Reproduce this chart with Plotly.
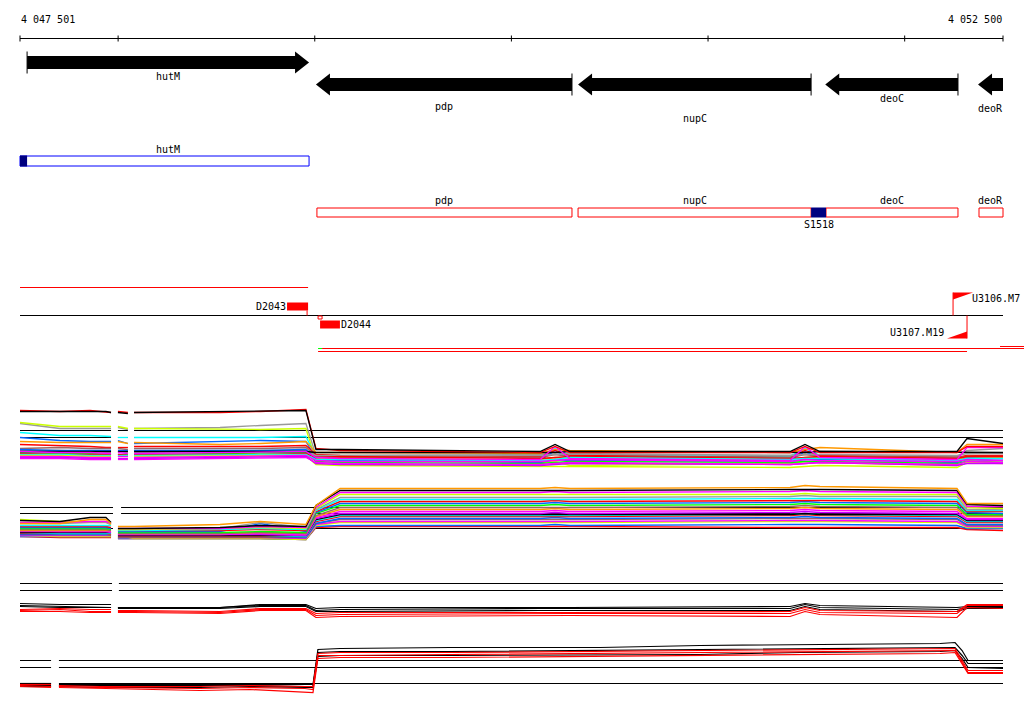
import plotly.graph_objects as go

# ---------------- genomic window ----------------
VIEW_START = 4047501
VIEW_END = 4052500
AXIS_TICKS = [4047501, 4048000, 4049000, 4050000, 4051000, 4052000, 4052500]
AXIS_END_LABELS = ["4 047 501", "4 052 500"]

# ---------------- gene arrows ----------------
GENE_NAMES = ["hutM", "pdp", "nupC", "deoC", "deoR"]
GENE_START = [4047537, 4049006, 4050339, 4051596, 4052373]
GENE_END = [4048971, 4050308, 4051524, 4052271, 4052500]
GENE_STRAND = ["+", "-", "-", "-", "-"]

# ---------------- transcript boxes ----------------
TX_NAMES = ["hutM", "pdp", "nupC", "deoC", "deoR"]
TX_START = [4047501, 4049011, 4050339, 4051600, 4052378]
TX_END = [4048971, 4050308, 4051524, 4052271, 4052500]
TX_COLOR = ["#0000ff", "#ff0000", "#ff0000", "#ff0000", "#ff0000"]
SITE_NAMES = ["", "S1518"]
SITE_START = [4047501, 4051524]
SITE_END = [4047537, 4051600]

# ---------------- features ----------------
SEG_NAMES = ["D2043", "D2044"]
SEG_START = [4048859, 4049027]
SEG_END = [4048966, 4049128]
FLAG_NAMES = ["U3106.M7", "U3107.M19"]
FLAG_POS = [4052246, 4052317]
FLAG_STRAND = ["+", "-"]

# ---------------- data tracks: probe positions ----------------
GRID_BP = [4047501, 4047704, 4047857, 4047938, 4047964, 4047999, 4048050, 4048081,
           4048518, 4048723, 4048955, 4049006, 4049129, 4050146, 4050222, 4050298,
           4051417, 4051493, 4051569, 4052266, 4052317, 4052500]
GRID_D_BP = [4047501, 4047603, 4047659, 4047699, 4047908, 4048416, 4048671, 4048950,
             4048991, 4049016, 4049129, 4049689, 4050451, 4050959, 4051468, 4052180,
             4052256, 4052292, 4052322, 4052500]

# panel A
A_BLACK1 = [411, 411, 411, 411, 412, 412, 413, 412, 411, 410, 410, 449, 449, 451, 444, 451, 451, 444, 451, 451, 438, 443]
A_RED1 = [410, 411, 410, 411, 412, 411, 412, 412, 412, 411, 409, 448, 450, 452, 446, 452, 452, 446, 452, 452, 446, 446]
A_GREY1 = [423, 428, 428, 428, 428, 427, 429, 428, 427, 425, 423, 455, 455, 454, 452, 454, 455, 452, 455, 456, 450, 448]
A_YELLOW1 = [422, 426, 426, 426, 426, 426, 428, 428, 429, 429, 428, 460, 460, 462, 461, 465, 463, 461, 462, 465, 460, 462]
A_CYAN1 = [432, 435, 435, 436, 436, 437, 437, 437, 437, 437, 436, 456, 456, 457, 448, 455, 456, 448, 455, 458, 455, 456]
A_BLUE1 = [437, 440, 441, 441, 441, 440, 443, 443, 441, 440, 441, 458, 459, 460, 450, 459, 460, 451, 458, 460, 457, 458]
A_ORANGE1 = [441, 442, 442, 442, 442, 441, 443, 442, 444, 443, 441, 452, 452, 453, 449, 450, 452, 449, 447, 452, 444, 444]
A_RED2 = [444, 445, 446, 447, 447, 447, 447, 446, 446, 446, 445, 454, 455, 456, 450, 455, 457, 450, 455, 457, 455, 455]
A_BROWN1 = [448, 447, 448, 448, 448, 448, 449, 448, 448, 448, 447, 456, 457, 457, 454, 456, 457, 454, 456, 457, 456, 456]
A_ORANGE2 = [450, 450, 451, 451, 451, 451, 451, 451, 450, 450, 450, 458, 458, 459, 457, 458, 459, 457, 457, 460, 456, 457]
A_GREY2 = [450, 451, 451, 452, 452, 451, 452, 452, 451, 451, 450, 455, 455, 455, 454, 453, 455, 454, 454, 455, 453, 453]
A_BLUE2 = [449, 450, 450, 450, 450, 450, 450, 450, 450, 450, 449, 459, 460, 462, 459, 460, 461, 459, 459, 462, 459, 460]
A_MAGENTA1 = [451, 452, 452, 453, 453, 452, 453, 453, 452, 452, 451, 457, 458, 459, 446, 458, 460, 446, 457, 459, 447, 447]
A_GREEN1 = [452, 453, 453, 454, 454, 454, 454, 454, 453, 453, 452, 461, 462, 463, 462, 461, 462, 461, 461, 463, 461, 462]
A_RED3 = [453, 454, 454, 454, 454, 454, 455, 454, 454, 454, 453, 457, 456, 458, 457, 456, 458, 457, 456, 458, 456, 456]
A_CYAN2 = [454, 454, 455, 455, 455, 455, 455, 455, 454, 454, 454, 459, 459, 460, 459, 457, 459, 458, 458, 460, 458, 458]
A_YELLOW2 = [455, 455, 456, 456, 456, 456, 456, 456, 455, 455, 455, 464, 465, 466, 466, 466, 467, 466, 465, 467, 462, 463]
A_MAGENTA2 = [456, 456, 457, 457, 457, 456, 456, 457, 456, 456, 455, 460, 461, 461, 460, 459, 461, 459, 460, 461, 459, 460]
A_PURPLE1 = [457, 457, 458, 458, 458, 458, 458, 458, 457, 457, 456, 463, 464, 465, 464, 463, 464, 463, 462, 465, 463, 463]
A_MAGENTA3 = [458, 458, 459, 459, 459, 459, 459, 459, 458, 458, 457, 462, 463, 464, 463, 462, 464, 463, 462, 464, 461, 462]
A_BLACK2 = [451, 451, 451, 451, 451, 451, 451, 451, 451, 451, 451, 452, 452, 452, 452, 451, 452, 452, 451, 452, 452, 452]

# panel B
B_ORANGE1 = [523, 523, 519, 519, 523, 526, 526, 526, 524, 521, 524, 505, 488, 488, 487, 488, 487, 485, 486, 488, 503, 503]
B_BLACK1 = [520, 521, 517, 517, 522, 528, 528, 528, 527, 525, 526, 505, 490, 490, 490, 490, 489, 489, 489, 490, 504, 505]
B_MAGENTA1 = [522, 522, 521, 521, 523, 528, 528, 528, 528, 526, 527, 507, 492, 492, 491, 492, 491, 490, 491, 492, 506, 506]
B_YELLOW1 = [519, 521, 521, 521, 524, 529, 529, 529, 528, 527, 528, 508, 494, 494, 494, 494, 494, 493, 494, 494, 507, 508]
B_GREY1 = [523, 523, 522, 522, 524, 529, 529, 529, 528, 522, 527, 509, 497, 497, 497, 497, 496, 495, 496, 496, 509, 509]
B_CYAN1 = [525, 525, 525, 525, 525, 530, 530, 530, 529, 528, 529, 510, 499, 499, 499, 499, 498, 498, 498, 499, 510, 510]
B_RED1 = [526, 526, 526, 526, 527, 530, 530, 530, 530, 529, 530, 511, 501, 501, 500, 501, 500, 500, 500, 501, 511, 511]
B_BLUE1 = [527, 527, 527, 527, 528, 531, 531, 531, 531, 523, 531, 512, 503, 503, 502, 503, 502, 501, 502, 503, 512, 513]
B_GREEN1 = [528, 528, 528, 528, 529, 532, 532, 532, 532, 531, 532, 513, 505, 505, 504, 505, 504, 503, 504, 505, 514, 514]
B_BROWN1 = [529, 529, 529, 529, 530, 533, 533, 533, 533, 532, 533, 515, 507, 507, 507, 507, 506, 505, 506, 507, 515, 515]
B_ORANGE2 = [530, 530, 530, 530, 530, 533, 533, 533, 533, 532, 533, 516, 509, 509, 508, 509, 508, 507, 508, 509, 516, 516]
B_MAGENTA2 = [530, 531, 531, 531, 531, 534, 534, 534, 534, 533, 534, 517, 511, 511, 510, 511, 510, 509, 510, 511, 518, 518]
B_PURPLE1 = [531, 531, 531, 531, 532, 534, 534, 534, 534, 534, 535, 518, 513, 513, 512, 513, 512, 511, 512, 513, 519, 519]
B_BLACK2 = [532, 532, 532, 532, 532, 535, 535, 535, 535, 535, 535, 519, 514, 514, 514, 514, 514, 513, 514, 514, 520, 520]
B_CYAN2 = [532, 533, 533, 533, 533, 535, 535, 535, 535, 535, 536, 520, 515, 515, 515, 515, 514, 513, 514, 515, 521, 521]
B_RED2 = [533, 533, 533, 533, 534, 536, 536, 536, 536, 536, 536, 521, 516, 516, 516, 516, 515, 514, 515, 516, 522, 522]
B_BLUE2 = [534, 534, 534, 534, 534, 536, 536, 536, 536, 536, 537, 523, 518, 518, 517, 518, 517, 516, 517, 518, 524, 524]
B_BROWN2 = [534, 534, 534, 534, 535, 537, 537, 537, 537, 537, 537, 523, 519, 519, 519, 519, 518, 518, 518, 519, 525, 525]
B_MAGENTA3 = [535, 535, 535, 535, 535, 537, 537, 537, 537, 537, 538, 524, 521, 521, 521, 521, 520, 520, 520, 521, 526, 526]
B_YELLOW2 = [535, 536, 536, 536, 536, 537, 537, 538, 538, 538, 539, 525, 522, 522, 522, 522, 521, 521, 521, 522, 527, 527]
B_BLUE3 = [536, 536, 536, 536, 536, 538, 538, 538, 538, 538, 539, 526, 525, 525, 524, 525, 524, 524, 524, 525, 528, 528]
B_RED3 = [536, 537, 537, 537, 537, 538, 538, 538, 538, 538, 539, 527, 526, 526, 526, 526, 527, 527, 527, 527, 529, 530]

# panel C
C_BLACK1 = [603, 604, 604, 604, 604, 607, 607, 607, 607, 604, 604, 608, 607, 607, 607, 607, 606, 603, 605, 607, 606, 606]
C_BLACK2 = [605, 606, 607, 607, 607, 607, 607, 607, 607, 605, 605, 610, 609, 608, 608, 608, 608, 604, 607, 609, 607, 607]
C_BLACK3 = [606, 607, 607, 607, 607, 608, 608, 608, 608, 606, 606, 611, 611, 610, 610, 610, 610, 606, 609, 611, 608, 608]
C_RED1 = [609, 608, 609, 609, 609, 610, 610, 610, 611, 608, 608, 613, 612, 612, 612, 612, 611, 607, 610, 611, 604, 604]
C_RED2 = [610, 609, 611, 611, 611, 611, 611, 611, 612, 609, 609, 615, 614, 613, 613, 613, 613, 609, 612, 613, 605, 605]
C_RED3 = [611, 611, 612, 612, 612, 612, 612, 612, 613, 610, 610, 617, 616, 615, 615, 615, 616, 611, 614, 617, 607, 608]

# panel D
D_BLACK1 = [683, 683, 683, 684, 684, 684, 684, 684, 684, 649, 648, 647, 647, 645, 644, 643, 642, 650, 660, 660]
D_BLACK2 = [685, 685, 685, 685, 685, 685, 685, 686, 686, 652, 651, 651, 650, 649, 648, 647, 647, 655, 663, 663]
D_BLACK3 = [686, 686, 686, 686, 687, 687, 686, 687, 687, 656, 655, 655, 654, 654, 652, 651, 650, 658, 667, 668]
D_RED1 = [684, 684, 684, 685, 686, 686, 685, 686, 686, 653, 652, 652, 651, 650, 649, 648, 648, 660, 670, 670]
D_RED2 = [685, 686, 686, 686, 687, 688, 687, 688, 689, 655, 655, 654, 653, 652, 651, 650, 650, 662, 672, 672]
D_RED3 = [686, 687, 687, 687, 688, 690, 689, 691, 692, 658, 657, 657, 656, 655, 654, 653, 652, 664, 673, 673]

# reference levels per panel
REF_A = [430, 437]
REF_B = [507, 513, 528]
REF_C = [583, 590]
REF_D = [660, 667, 683]

# ---------------- colours ----------------
BLACK, RED, GREY, YELLOW = "#000000", "#ff0000", "#999999", "#ccff00"
CYAN, BLUE, ORANGE, BROWN = "#00ffff", "#0066ff", "#ff9900", "#996666"
MAGENTA, GREEN, PURPLE, NAVY = "#ff00ff", "#00ff00", "#cc00ff", "#000080"

PANEL_A = [(A_GREY1, GREY), (A_YELLOW1, YELLOW), (A_CYAN1, CYAN), (A_BLUE1, BLUE),
           (A_ORANGE1, ORANGE), (A_RED2, RED), (A_BROWN1, BROWN), (A_ORANGE2, ORANGE),
           (A_GREY2, GREY), (A_BLUE2, BLUE), (A_GREEN1, GREEN), (A_RED3, RED),
           (A_CYAN2, CYAN), (A_YELLOW2, YELLOW), (A_MAGENTA2, MAGENTA), (A_PURPLE1, PURPLE),
           (A_MAGENTA3, MAGENTA), (A_BLACK2, BLACK), (A_MAGENTA1, MAGENTA),
           (A_RED1, RED), (A_BLACK1, BLACK)]
PANEL_B = [(B_RED3, RED), (B_BLUE3, BLUE), (B_YELLOW2, YELLOW), (B_MAGENTA3, MAGENTA),
           (B_BROWN2, BROWN), (B_BLUE2, BLUE), (B_RED2, RED), (B_CYAN2, CYAN),
           (B_BLACK2, BLACK), (B_PURPLE1, PURPLE), (B_MAGENTA2, MAGENTA), (B_ORANGE2, ORANGE),
           (B_BROWN1, BROWN), (B_GREEN1, GREEN), (B_BLUE1, BLUE), (B_RED1, RED),
           (B_CYAN1, CYAN), (B_GREY1, GREY), (B_YELLOW1, YELLOW), (B_MAGENTA1, MAGENTA),
           (B_BLACK1, BLACK), (B_ORANGE1, ORANGE)]
PANEL_C = [(C_BLACK1, BLACK), (C_BLACK2, BLACK), (C_BLACK3, BLACK),
           (C_RED1, RED), (C_RED2, RED), (C_RED3, RED)]
PANEL_D = [(D_BLACK1, BLACK), (D_BLACK2, BLACK), (D_BLACK3, BLACK),
           (D_RED1, RED), (D_RED2, RED), (D_RED3, RED)]

# ---------------- layout constants (pixel rows) ----------------
W, H = 1024, 714
PX_LEFT, PX_RIGHT = 20, 1003
BP_PER_PX = (VIEW_END - VIEW_START) / (PX_RIGHT - PX_LEFT)
X_MIN = VIEW_START - PX_LEFT * BP_PER_PX
X_MAX = VIEW_END + (W - PX_RIGHT) * BP_PER_PX

FONT = dict(family="DejaVu Sans Mono", size=10, color="black")
shapes, annotations = [], []
fig = go.Figure()


def text(x, y, s, anchor="center"):
    annotations.append(dict(x=x, y=y, xref="x", yref="y", text=s, showarrow=False,
                            xanchor=anchor, yanchor="middle", font=FONT))


def line(x0, x1, y0, y1, color, width=1, layer="above"):
    shapes.append(dict(type="line", xref="x", yref="y", x0=x0, x1=x1, y0=y0, y1=y1,
                       line=dict(color=color, width=width), layer=layer))


def rect(x0, x1, y0, y1, line_color, fill=None, width=1):
    shapes.append(dict(type="rect", xref="x", yref="y", x0=x0, x1=x1, y0=y0, y1=y1,
                       line=dict(color=line_color, width=width),
                       fillcolor=fill if fill else "rgba(0,0,0,0)"))


def path(points, color):
    d = "M " + " L ".join(f"{x},{y}" for x, y in points) + " Z"
    shapes.append(dict(type="path", xref="x", yref="y", path=d, fillcolor=color,
                       line=dict(width=0, color=color)))


# ---- scale bar ----
line(VIEW_START, VIEW_END, 38, 38, BLACK)
for t in AXIS_TICKS:
    line(t, t, 35, 41, BLACK)
text(VIEW_START - BP_PER_PX, 19, AXIS_END_LABELS[0], "left")
text(VIEW_END + BP_PER_PX, 19, AXIS_END_LABELS[1], "right")

# ---- gene arrows ----
ROW_Y = [62, 84, 84, 84, 84]
LABEL_Y = [76, 106, 118, 98, 108]
HB, HH, HEAD = 6.5, 11, 14 * BP_PER_PX
for name, s, e, strand, yc, ly in zip(GENE_NAMES, GENE_START, GENE_END, GENE_STRAND, ROW_Y, LABEL_Y):
    if strand == "+":
        tip, base, tail = e, e - HEAD, s
    else:
        tip, base, tail = s, s + HEAD, e
    path([(tail, yc - HB), (base, yc - HB), (base, yc - HH), (tip, yc),
          (base, yc + HH), (base, yc + HB), (tail, yc + HB)], BLACK)
    if tail < VIEW_END:
        line(tail, tail, yc - HH, yc + HH, BLACK)
    text((s + e) / 2, ly, name)

# ---- transcript boxes ----
TX_TOP = [155.5, 207.5, 207.5, 207.5, 207.5]
TX_BOT = [165.5, 216.5, 216.5, 216.5, 216.5]
TX_LABEL_Y = [149, 200, 200, 200, 200]
for name, s, e, c, y0, y1, ly in zip(TX_NAMES, TX_START, TX_END, TX_COLOR, TX_TOP, TX_BOT, TX_LABEL_Y):
    rect(s, e, y0, y1, c)
    cx = (GENE_START[GENE_NAMES.index(name)] + GENE_END[GENE_NAMES.index(name)]) / 2
    text(cx, ly, name)
for name, s, e, y0, y1 in zip(SITE_NAMES, SITE_START, SITE_END, [155, 207], [166, 217]):
    rect(s, e, y0, y1, NAVY, NAVY, width=0)
    if name:
        text((s + e) / 2, 224, name)

# ---- feature track ----
line(VIEW_START, SEG_END[0], 287, 287, RED)
line(VIEW_START, VIEW_END, 315, 315, BLACK)
rect(SEG_START[0], SEG_END[0], 302, 310, RED, RED, width=0)
line(SEG_END[0] - BP_PER_PX, SEG_END[0] - BP_PER_PX, 310, 315, RED)
text(SEG_START[0] + BP_PER_PX, 306, SEG_NAMES[0], "right")
rect(SEG_START[1] - 2 * BP_PER_PX, SEG_START[1] + 2 * BP_PER_PX, 315.5, 318.5, RED)
rect(SEG_START[1], SEG_END[1], 320, 328, RED, RED, width=0)
text(SEG_END[1] - BP_PER_PX, 324, SEG_NAMES[1], "left")

FLAG_W = 20 * BP_PER_PX
for name, p, strand in zip(FLAG_NAMES, FLAG_POS, FLAG_STRAND):
    if strand == "+":
        line(p, p, 292, 315, RED)
        path([(p, 292), (p + FLAG_W, 292), (p, 299)], RED)
        text(p + FLAG_W - 3 * BP_PER_PX, 298, name, "left")
    else:
        line(p, p, 315, 338, RED)
        path([(p, 338), (p - FLAG_W, 338), (p, 331)], RED)
        text(p - FLAG_W - 1 * BP_PER_PX, 332, name, "right")

line(SEG_START[1] - 2 * BP_PER_PX, SEG_START[1] + 2 * BP_PER_PX, 348, 348, GREEN)
line(SEG_START[1] + 2 * BP_PER_PX, X_MAX, 348, 348, RED)
line(SEG_START[1] - 2 * BP_PER_PX, FLAG_POS[1], 351, 351, RED)
line(VIEW_END - 3 * BP_PER_PX, X_MAX, 346, 346, RED)

# ---- data panels ----
def with_gaps(xs, ys, gap_after):
    X, Y = [], []
    for i, (x, y) in enumerate(zip(xs, ys)):
        X.append(x)
        Y.append(y)
        if i in gap_after:
            X.append(None)
            Y.append(None)
    return X, Y


def ref_lines(levels, gaps):
    for lv in levels:
        xs = [VIEW_START]
        for g0, g1 in gaps:
            xs += [g0, None, g1]
        xs.append(VIEW_END)
        ys = [None if x is None else lv for x in xs]
        fig.add_trace(go.Scatter(x=xs, y=ys, mode="lines", line=dict(color=BLACK, width=1),
                                 hoverinfo="skip", connectgaps=False))


def panel(series, grid, gap_after, width=1):
    for vals, color in series:
        X, Y = with_gaps(grid, vals, gap_after)
        fig.add_trace(go.Scatter(x=X, y=Y, mode="lines", line=dict(color=color, width=width),
                                 hoverinfo="skip", connectgaps=False))


ref_lines(REF_A, [(4047964, 4047999), (4048050, 4048081)])
ref_lines(REF_B, [(4047974, 4048015)])
ref_lines(REF_C, [(4047969, 4048004)])
ref_lines(REF_D, [(4047659, 4047699)])
panel(PANEL_A, GRID_BP, [4, 6], 1.3)
panel(PANEL_B, GRID_BP, [4], 1.4)
panel(PANEL_C, GRID_BP, [4], 1.2)
panel(PANEL_D, GRID_D_BP, [2], 1.2)

fig.update_layout(
    width=W, height=H, margin=dict(l=0, r=0, t=0, b=0),
    paper_bgcolor="white", plot_bgcolor="white", showlegend=False,
    xaxis=dict(range=[X_MIN, X_MAX], visible=False, fixedrange=True),
    yaxis=dict(range=[H - 0.5, -0.5], visible=False, fixedrange=True),
    shapes=shapes, annotations=annotations,
)
fig.write_html("out.html", config={"displayModeBar": False},
               post_script="document.body.style.margin='0';")
